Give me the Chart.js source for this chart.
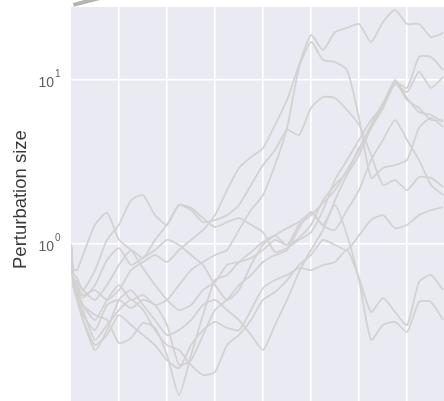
<!DOCTYPE html>
<html>
<head>
<meta charset="utf-8">
<script src="https://cdn.jsdelivr.net/npm/chart.js@4.4.1/dist/chart.umd.min.js"></script>
<style>
  html, body { margin: 0; padding: 0; background: #ffffff; overflow: hidden; }
  canvas { display: block; }
</style>
</head>
<body>
<canvas id="chart" width="444" height="401"></canvas>
<script>
// Time steps shared by every run
const steps = [0, 0.05, 0.125, 0.25, 0.5, 0.75, 1, 1.25, 1.5, 1.75, 2, 2.25, 2.5, 2.75, 3, 3.25,
  3.5, 3.75, 4, 4.25, 4.5, 4.75, 5, 5.25, 5.5, 5.75, 6, 6.25, 6.5, 6.75, 7, 7.25, 7.5, 7.75];

// Perturbation size of each run at those steps
const run1 = [1, 0.62, 0.562, 0.489, 0.524, 0.456, 0.524, 0.694, 0.777, 0.857, 0.777, 0.919, 1.06, 1.22, 1.50, 2.13, 2.91, 3.39, 3.85, 5.32, 7.55, 12.35, 18.81, 15.24, 19.62, 20.76, 21.96, 17.05, 22.58, 26.72, 21.96, 21.96, 18.29, 19.35];
const run2 = [1, 0.58, 0.524, 0.425, 0.344, 0.456, 0.562, 0.456, 0.489, 0.425, 0.456, 0.562, 0.694, 0.777, 0.857, 0.919, 1.22, 1.61, 1.99, 3.03, 5.10, 11.84, 17.05, 13.24, 12.88, 11.51, 5.87, 2.53, 2.91, 3.03, 3.25, 5.10, 5.87, 5.17];
const run3 = [1, 0.66, 0.621, 0.524, 0.694, 1.06, 1.31, 1.85, 1.99, 1.50, 1.31, 1.73, 1.61, 1.36, 1.40, 1.50, 1.73, 2.29, 3.03, 3.74, 4.96, 4.62, 6.75, 7.88, 7.77, 6.56, 5.32, 3.49, 2.29, 2.46, 2.13, 2.56, 2.53, 2.23];
const run4 = [1, 0.60, 0.510, 0.425, 0.369, 0.344, 0.249, 0.267, 0.330, 0.308, 0.210, 0.120, 0.210, 0.369, 0.603, 0.647, 0.777, 0.894, 1.03, 1.13, 0.986, 1.31, 1.50, 1.78, 2.13, 2.83, 3.74, 5.32, 7.24, 9.72, 8.94, 13.81, 13.81, 11.51];
const run5 = [1, 0.70, 0.694, 0.857, 1.31, 1.55, 1.06, 0.919, 0.714, 0.562, 0.456, 0.396, 0.425, 0.524, 0.587, 0.745, 0.777, 0.822, 0.919, 1.06, 0.986, 1.09, 1.31, 1.85, 2.29, 2.75, 3.85, 5.10, 6.75, 9.45, 8.45, 11.19, 8.94, 10.43];
const run6 = [1, 0.62, 0.587, 0.524, 0.456, 0.562, 0.745, 0.919, 0.822, 1.06, 1.31, 1.73, 1.66, 1.44, 1.27, 1.36, 1.44, 1.31, 1.18, 0.894, 0.945, 1.06, 1.18, 1.61, 2.46, 3.25, 4.31, 5.70, 7.04, 9.72, 7.55, 6.75, 5.70, 5.70];
const run7 = [1, 0.56, 0.489, 0.369, 0.299, 0.425, 0.456, 0.407, 0.456, 0.425, 0.321, 0.183, 0.196, 0.279, 0.396, 0.456, 0.562, 0.647, 0.777, 0.857, 0.919, 1.25, 1.57, 1.29, 1.22, 1.61, 2.13, 3.25, 4.31, 5.70, 4.31, 3.25, 2.29, 1.99];
const run8 = [1, 0.55, 0.456, 0.344, 0.242, 0.279, 0.369, 0.321, 0.279, 0.242, 0.196, 0.175, 0.242, 0.299, 0.335, 0.308, 0.299, 0.396, 0.539, 0.603, 0.647, 0.714, 0.694, 0.745, 0.777, 0.919, 0.621, 0.385, 0.469, 0.385, 0.321, 0.587, 0.647, 0.524];
const run9 = [1, 0.60, 0.539, 0.469, 0.562, 0.799, 0.945, 0.745, 0.822, 0.919, 1.06, 0.986, 0.857, 0.745, 0.562, 0.456, 0.524, 0.745, 0.986, 1.13, 1.25, 1.36, 1.55, 1.31, 1.73, 1.13, 0.603, 0.260, 0.321, 0.335, 0.291, 0.443, 0.443, 0.344];
const run10 = [1, 0.60, 0.524, 0.396, 0.260, 0.321, 0.396, 0.456, 0.396, 0.299, 0.242, 0.226, 0.183, 0.159, 0.166, 0.242, 0.279, 0.344, 0.456, 0.510, 0.603, 0.745, 0.857, 1.06, 0.986, 0.919, 1.13, 1.40, 1.50, 1.25, 1.31, 1.50, 1.61, 1.68];
const run11 = [1, 0.55, 0.469, 0.344, 0.226, 0.299, 0.456, 0.524, 0.425, 0.344, 0.279, 0.299, 0.344, 0.425, 0.456, 0.396, 0.344, 0.279, 0.226, 0.321, 0.456, 0.675, 0.919, 1.22, 1.85, 2.64, 3.49, 5.10, 7.04, 10.0, 7.77, 6.38, 6.12, 5.55];
const runs = [run1, run2, run3, run4, run5, run6, run7, run8, run9, run10, run11];

// Darker stroke running off the top-left corner
const edgeX = [0.05, 0.6];
const edgeY = [28.7, 31.6];

// Axis ticks
const xGrid = [1, 2, 3, 4, 5, 6, 7];
const yTicks = [1, 10];
const yTickExponents = ['0', '1'];
const yTitle = 'Perturbation size';

const datasets = runs.map((r, k) => ({
  label: 'run ' + (k + 1),
  data: steps.map((x, i) => ({ x: x, y: r[i] })),
  borderColor: '#d2d2d2',
  borderWidth: 1.8,
  pointRadius: 0,
  tension: 0.2,
  fill: false
}));
datasets.push({
  label: 'edge',
  data: edgeX.map((x, i) => ({ x: x, y: edgeY[i] })),
  borderColor: '#b4b4b4',
  borderWidth: 4,
  borderCapStyle: 'butt',
  pointRadius: 0,
  tension: 0,
  clip: false,
  fill: false
});

const decor = {
  id: 'decor',
  beforeDraw(chart) {
    const { ctx, chartArea: a } = chart;
    ctx.save();
    ctx.fillStyle = '#EAEAF2';
    ctx.fillRect(a.left, a.top, a.right - a.left, a.bottom - a.top);
    ctx.restore();
  },
  afterDraw(chart) {
    const ctx = chart.ctx;
    const y = chart.scales.y;
    ctx.save();
    ctx.fillStyle = '#5e5e5e';
    yTicks.forEach((v, i) => {
      const py = y.getPixelForValue(v);
      ctx.font = '14px "Liberation Sans", Arial, sans-serif';
      ctx.textAlign = 'right';
      ctx.textBaseline = 'middle';
      ctx.fillText('10', 54, py + 3.5);
      ctx.font = '10px "Liberation Sans", Arial, sans-serif';
      ctx.textAlign = 'left';
      ctx.fillText(yTickExponents[i], 55, py - 5.5);
    });
    ctx.translate(26, 269);
    ctx.rotate(-Math.PI / 2);
    ctx.fillStyle = '#3a3a3a';
    ctx.font = '18.5px "Liberation Sans", Arial, sans-serif';
    ctx.textAlign = 'left';
    ctx.textBaseline = 'alphabetic';
    ctx.fillText(yTitle, 0, 0);
    ctx.restore();
  }
};

new Chart(document.getElementById('chart'), {
  type: 'line',
  data: { datasets: datasets },
  options: {
    responsive: false,
    animation: false,
    devicePixelRatio: 1,
    events: [],
    layout: { padding: { top: 7, left: 0, right: 0, bottom: 0 } },
    plugins: { legend: { display: false }, tooltip: { enabled: false } },
    scales: {
      x: {
        type: 'linear',
        min: 0,
        max: 7.77,
        border: { display: false },
        grid: { color: '#ffffff', lineWidth: 1.6, drawTicks: false },
        ticks: { display: false },
        afterBuildTicks: s => { s.ticks = xGrid.map(v => ({ value: v })); },
        afterFit: s => { s.height = 0; }
      },
      y: {
        type: 'logarithmic',
        min: 0.1104,
        max: 27.86,
        border: { display: false },
        grid: { color: '#ffffff', lineWidth: 1.6, drawTicks: false },
        ticks: { display: false },
        afterBuildTicks: s => { s.ticks = yTicks.map(v => ({ value: v })); },
        afterFit: s => { s.width = 71; }
      }
    }
  },
  plugins: [decor]
});
</script>
</body>
</html>
